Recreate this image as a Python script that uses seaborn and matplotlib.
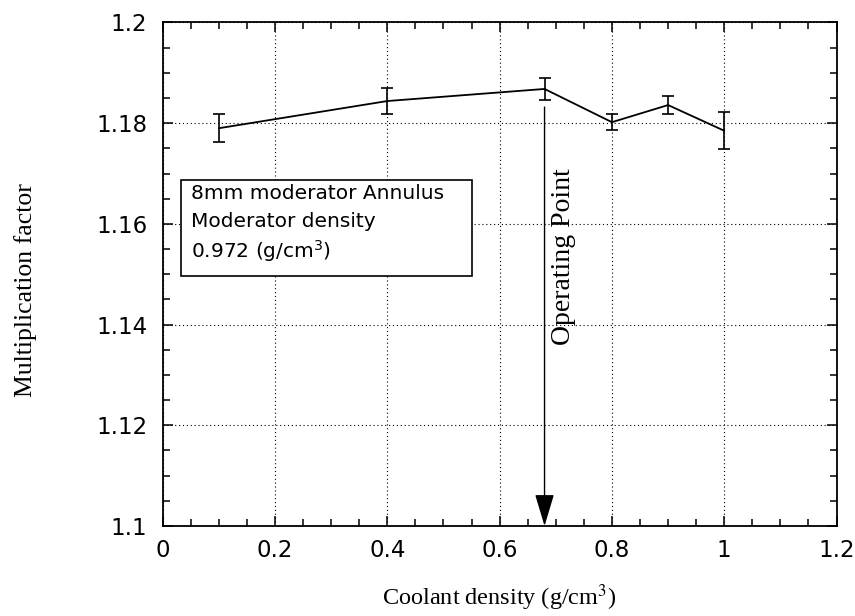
import matplotlib
matplotlib.use("Agg")
import matplotlib.pyplot as plt
import matplotlib.patches as mpatches
from matplotlib.ticker import MultipleLocator
import seaborn as sns
import pandas as pd

# ---- data ----
coolant_density = [0.1, 0.4, 0.68, 0.8, 0.9, 1.0]
multiplication = [1.1790, 1.1844, 1.1868, 1.1802, 1.1836, 1.1785]
error = [0.00275, 0.00265, 0.00225, 0.00165, 0.00185, 0.0037]
operating_point = 0.68
arrow_top = 1.1832
x_ticks = [0, 0.2, 0.4, 0.6, 0.8, 1.0, 1.2]
x_ticklabels = ["0", "0.2", "0.4", "0.6", "0.8", "1", "1.2"]
y_ticks = [1.1, 1.12, 1.14, 1.16, 1.18, 1.2]
y_ticklabels = ["1.1", "1.12", "1.14", "1.16", "1.18", "1.2"]
box_lines = ["8mm moderator Annulus", "Moderator density", "0.972 (g/cm$^3$)"]

df = pd.DataFrame({"x": coolant_density, "k": multiplication, "err": error})

sns.set_theme(style="ticks")
plt.rcParams["font.family"] = ["DejaVu Sans"]
plt.rcParams["mathtext.fontset"] = "stix"

fig = plt.figure(figsize=(8.55, 6.16), dpi=100)
ax = fig.add_axes([0.1903, 0.1461, 0.7881, 0.8174])

# grid
ax.grid(True, which="major", color="black", linestyle=(0, (1, 2.5)), linewidth=0.8)
ax.set_axisbelow(True)

# line + error bars
sns.lineplot(data=df, x="x", y="k", ax=ax, color="black", linewidth=1.3,
             estimator=None, sort=False, zorder=3)
ax.errorbar(df["x"], df["k"], yerr=df["err"], fmt="none", ecolor="black",
            elinewidth=1.2, capsize=4.5, capthick=1.2, zorder=3)

ax.set_xlim(0, 1.2)
ax.set_ylim(1.1, 1.2)
ax.set_xticks(x_ticks)
ax.set_xticklabels(x_ticklabels)
ax.set_yticks(y_ticks)
ax.set_yticklabels(y_ticklabels)
ax.xaxis.set_minor_locator(MultipleLocator(0.05))
ax.yaxis.set_minor_locator(MultipleLocator(0.005))
ax.tick_params(axis="both", which="both", direction="in", top=True, right=True,
               color="black", labelcolor="black")
ax.tick_params(axis="both", which="major", length=7, width=1.1, labelsize=16.5)
ax.tick_params(axis="both", which="minor", length=5, width=1.1)
ax.tick_params(axis="x", which="major", pad=9)
ax.tick_params(axis="y", which="major", pad=11)
for s in ax.spines.values():
    s.set_visible(True)
    s.set_color("black")
    s.set_linewidth(1.3)

serif = ["Liberation Serif", "DejaVu Serif"]
ax.set_xlabel("Coolant density (g/cm$^3$)", fontsize=17.5, family=serif, color="black")
ax.set_ylabel("Multiplication factor", fontsize=18.5, family=serif, color="black")
ax.xaxis.set_label_coords(0.5, -0.112)
ax.yaxis.set_label_coords(-0.1866, 0.469)

# operating point arrow
ax.annotate("", xy=(operating_point, 1.1), xytext=(operating_point, arrow_top),
            arrowprops=dict(arrowstyle="-|>,head_length=1.0,head_width=0.3",
                            mutation_scale=20, color="black", lw=1.0,
                            shrinkA=0, shrinkB=0), zorder=4)
ax.text(operating_point + 0.012, 1.1534, "Operating Point", rotation=90,
        ha="left", va="center", fontsize=20, family=serif, color="black")

# annotation box
rect = mpatches.Rectangle((0.0267, 0.4965), 0.4323, 0.1905, transform=ax.transAxes,
                          facecolor="white", edgecolor="black", linewidth=1.2, zorder=5)
ax.add_patch(rect)
for yy, txt in zip([0.649, 0.594, 0.532], box_lines):
    ax.text(0.0415, yy, txt, transform=ax.transAxes, ha="left", va="baseline",
            fontsize=14.5, color="black", zorder=6, math_fontfamily="dejavusans")

fig.savefig("out.png", dpi=100)
